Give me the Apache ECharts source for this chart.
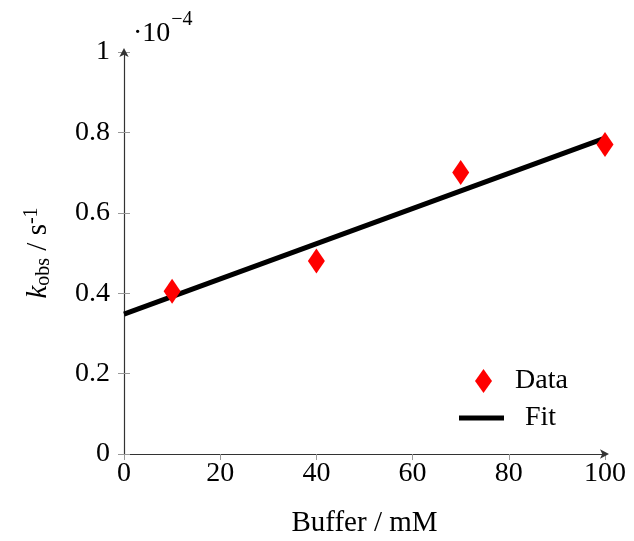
<!DOCTYPE html>
<html><head><meta charset="utf-8">
<script src="https://cdn.jsdelivr.net/npm/echarts@6/dist/echarts.min.js"></script>
<style>html,body{margin:0;padding:0;background:#fff}#c{width:634px;height:541px}</style>
</head><body><div id="c"></div>
<script>
const dataX = [10, 40, 70, 100];
const dataY = [0.405, 0.48, 0.70, 0.77];
const fitX = [0, 100];
const fitY = [0.348, 0.786];
const xTicks = [0, 20, 40, 60, 80, 100];
const yTicks = [0, 0.2, 0.4, 0.6, 0.8, 1];

const FONT = 'Liberation Serif';
const FS = 28;
const chart = echarts.init(document.getElementById('c'), null, {renderer: 'canvas'});
const axisBase = (type) => ({
  type: 'value', min: 0, max: type === 'x' ? 100 : 1, interval: type === 'x' ? 20 : 0.2,
  splitLine: {show: false}
});
chart.setOption({
  animation: false,
  grid: {left: 124, right: 29, top: 52, bottom: 87, containLabel: false, outerBoundsMode: 'none'},
  xAxis: [
    Object.assign(axisBase('x'), {
      name: 'Buffer / mM', nameLocation: 'middle', nameGap: 55,
      nameTextStyle: {fontFamily: FONT, fontSize: 29, color: '#000'},
      axisLine: {show: true, symbol: ['none', 'arrow'], symbolSize: [7, 9], symbolOffset: [0, 4], lineStyle: {color: '#333', width: 1.2}},
      axisTick: {show: true, length: 6, lineStyle: {color: '#999'}},
      axisLabel: {fontFamily: FONT, fontSize: FS, color: '#000', margin: 6,
        formatter: v => xTicks.includes(v) ? String(v) : ''}
    }),
    Object.assign(axisBase('x'), {
      axisLine: {show: false}, axisLabel: {show: false},
      axisTick: {show: true, inside: true, length: 6, lineStyle: {color: '#999'}}
    })
  ],
  yAxis: [
    Object.assign(axisBase('y'), {
      name: '{i|k}{sub|obs} / s{sup|-1}', nameLocation: 'middle', nameGap: 70, nameRotate: 90,
      nameTextStyle: {fontFamily: FONT, fontSize: 29, color: '#000',
        rich: {
          i: {fontFamily: FONT, fontSize: 29, fontStyle: 'italic', color: '#000'},
          sub: {fontFamily: FONT, fontSize: 20, color: '#000', verticalAlign: 'bottom', padding: [12, 0, 0, 0]},
          sup: {fontFamily: FONT, fontSize: 20, color: '#000', verticalAlign: 'top', padding: [0, 0, 12, 0]}
        }},
      axisLine: {show: true, symbol: ['none', 'arrow'], symbolSize: [7, 9], symbolOffset: [0, 4], lineStyle: {color: '#333', width: 1.2}},
      axisTick: {show: true, length: 6, lineStyle: {color: '#999'}},
      axisLabel: {fontFamily: FONT, fontSize: FS, color: '#000', margin: 14,
        formatter: v => { const t = yTicks.find(y => Math.abs(y - v) < 1e-9); return t === undefined ? '' : String(t); }}
    }),
    Object.assign(axisBase('y'), {
      position: 'left',
      axisLine: {show: false}, axisLabel: {show: false},
      axisTick: {show: true, inside: true, length: 6, lineStyle: {color: '#999'}}
    })
  ],
  legend: [
    {data: [{name: 'Data', icon: 'diamond'}], orient: 'vertical', left: 470, top: 362,
      itemWidth: 17, itemHeight: 24, textStyle: {fontFamily: FONT, fontSize: FS, color: '#000', padding: [0, 0, 0, 18]}},
    {data: [{name: 'Fit', icon: 'rect'}], orient: 'vertical', left: 454, top: 399,
      itemWidth: 45, itemHeight: 5, textStyle: {fontFamily: FONT, fontSize: FS, color: '#000', padding: [0, 0, 0, 16]}}
  ],
  graphic: [{
    type: 'text', left: 133, top: 10,
    style: {
      text: '{a|·10}{b|−4}', fill: '#000',
      rich: {
        a: {fontFamily: FONT, fontSize: FS, fill: '#000', padding: [10, 0, 0, 0]},
        b: {fontFamily: FONT, fontSize: 20, fill: '#000', verticalAlign: 'top', padding: [0, 0, 0, 1]}
      }
    }
  }],
  series: [
    {name: 'Fit', type: 'line', data: fitX.map((x, i) => [x, fitY[i]]), showSymbol: false,
      lineStyle: {color: '#000', width: 5}, itemStyle: {color: '#000'}, z: 2},
    {name: 'Data', type: 'scatter', data: dataX.map((x, i) => [x, dataY[i]]), symbol: 'diamond',
      symbolSize: [17, 25], itemStyle: {color: '#ff0000', opacity: 1}, z: 3}
  ]
});
</script></body></html>
